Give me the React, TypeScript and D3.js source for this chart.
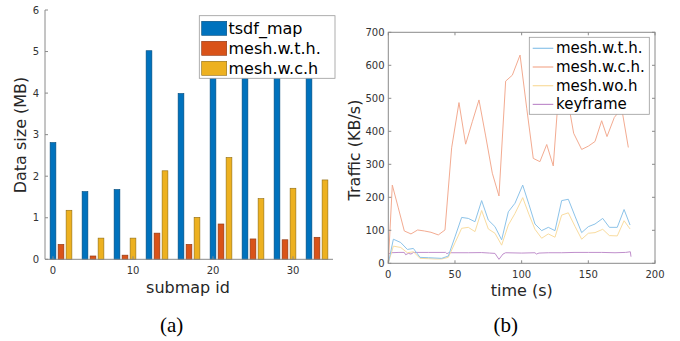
import React from 'react';
import * as d3 from 'd3';

// ---- (a) data size per submap ----
const submapIds = [0, 4, 8, 12, 16, 20, 24, 28, 32];
const tsdfMap = [2.81, 1.63, 1.68, 5.02, 3.99, 5.4, 5.2, 5.3, 5.1];
const meshWTH = [0.36, 0.08, 0.1, 0.63, 0.36, 0.85, 0.49, 0.47, 0.53];
const meshWCH = [1.18, 0.51, 0.51, 2.13, 1.01, 2.45, 1.46, 1.71, 1.91];
const barSeries = ['tsdf_map', 'mesh.w.t.h.', 'mesh.w.c.h'];
const barColors = ['#0072BD', '#D95319', '#EDB120'];
const barEdges = ['#00497a', '#8a3510', '#8f6b12'];
const yTicksA = [0, 1, 2, 3, 4, 5, 6];
const xTicksA = [0, 10, 20, 30];

// ---- (b) traffic over time ----
const timeMesh = [0, 3.8, 9.3, 14.3, 18.8, 23.8, 30, 35, 40, 45, 50, 55, 60, 65, 70, 75, 80, 85, 90, 95, 100.8, 105.5, 110, 115, 120, 125, 130, 135, 140, 145, 150, 155, 160.8, 165.8, 171.7, 176.8, 181.3];
const trafficWTH = [0, 73, 63, 42, 45, 18, 17, 16, 15, 22, 80, 139, 136, 126, 190, 131, 111, 71, 156, 182, 237, 178, 119, 99, 109, 99, 190, 194, 143, 93, 111, 119, 136, 109, 109, 163, 116];
const trafficWOH = [0, 52, 48, 32, 35, 15, 14, 13, 13, 18, 62, 106, 109, 96, 160, 104, 91, 55, 116, 151, 199, 148, 103, 76, 89, 79, 146, 153, 112, 73, 91, 93, 103, 84, 83, 129, 104];
const timeWCH = [0, 3, 7.5, 12, 17, 22, 27, 32, 37.5, 42.5, 47.5, 53, 58, 63, 68, 73, 78, 83, 88, 93, 98.8, 103.8, 108.7, 113.7, 118.8, 123.7, 128.5, 133.5, 139, 145, 150, 155, 160, 164, 169.5, 175, 180];
const trafficWCH = [0, 237, 168, 98, 89, 101, 98, 94, 86, 101, 350, 487, 361, 429, 495, 386, 273, 204, 552, 570, 631, 470, 318, 308, 360, 295, 560, 520, 394, 345, 355, 369, 432, 384, 442, 470, 351];
const timeKey = [0, 2, 8, 12, 13, 15, 17, 19, 30, 43, 44, 45, 60, 70, 76, 80, 83, 86, 88, 100, 110, 111, 113, 120, 130, 140, 150, 160, 170, 178, 181.5, 182];
const trafficKey = [28, 32, 33, 33, 26, 30, 28, 33, 33, 33, 29, 32, 32, 32.5, 31, 30, 12, 28, 32, 31, 32, 28, 31, 32, 32, 33, 33, 33, 32, 33, 35, 20];
const lineNames = ['mesh.w.t.h.', 'mesh.w.c.h.', 'mesh.wo.h', 'keyframe'];
const lineColors = ['#8cc3e9', '#f3ab91', '#f9dc9f', '#c08fcc'];
const yTicksB = [0, 100, 200, 300, 400, 500, 600, 700];
const xTicksB = [0, 50, 100, 150, 200];

const FONT = 'DejaVu Sans, sans-serif';
const AXIS = '#8a8a8a';
const TICKTXT = '#333';

function ChartA() {
  const x = d3.scaleLinear().domain([-1, 35]).range([45, 333]);
  const y = d3.scaleLinear().domain([0, 6]).range([259.3, 10]);
  const bw = x(0.72) - x(0);
  const all = [tsdfMap, meshWTH, meshWCH];
  return (
    <g>
      {all.map((vals, s) =>
        vals.map((v, i) => (
          <rect key={s + '-' + i} x={x(submapIds[i] + s) - bw / 2} y={y(v)} width={bw} height={y(0) - y(v)}
            fill={barColors[s]} stroke={barEdges[s]} strokeWidth={0.6} />
        ))
      )}
      <line x1={x(-1)} x2={x(-1)} y1={y(0)} y2={y(6)} stroke={AXIS} />
      <line x1={x(-1)} x2={x(35)} y1={y(0)} y2={y(0)} stroke={AXIS} />
      {yTicksA.map(t => (
        <g key={t}>
          <line x1={x(-1)} x2={x(-1) + 3} y1={y(t)} y2={y(t)} stroke={AXIS} />
          <text x={39} y={y(t)} textAnchor="end" dominantBaseline="central" fontSize={10} fill={TICKTXT}>{t}</text>
        </g>
      ))}
      {xTicksA.map(t => (
        <g key={t}>
          <line x1={x(t)} x2={x(t)} y1={y(0)} y2={y(0) - 3} stroke={AXIS} />
          <text x={x(t)} y={270} textAnchor="middle" dominantBaseline="central" fontSize={10} fill={TICKTXT}>{t}</text>
        </g>
      ))}
      <text x={188} y={287} textAnchor="middle" dominantBaseline="central" fontSize={16} fill="#262626">submap id</text>
      <text transform={`translate(20.5,135) rotate(-90)`} textAnchor="middle" dominantBaseline="central" fontSize={16} fill="#262626">Data size (MB)</text>
      {/* legend */}
      <rect x={199.3} y={15.7} width={135.7} height={62.6} fill="#fff" stroke="#9a9a9a" strokeWidth={0.8} />
      {barSeries.map((name, i) => (
        <g key={name}>
          <rect x={201.7} y={21.3 + i * 20} width={25} height={14} fill={barColors[i]} stroke={barEdges[i]} strokeWidth={0.6} />
          <text x={228.5} y={28.3 + i * 20} dominantBaseline="central" fontSize={16} fill="#000">{name}</text>
        </g>
      ))}
    </g>
  );
}

function ChartB() {
  const x = d3.scaleLinear().domain([0, 200]).range([388.3, 655]);
  const y = d3.scaleLinear().domain([0, 700]).range([263.3, 32.3]);
  const line = d3.line<[number, number]>().x(d => x(d[0])).y(d => y(d[1]));
  const series: [number, number][][] = [
    timeMesh.map((t, i) => [t, trafficWTH[i]]),
    timeWCH.map((t, i) => [t, trafficWCH[i]]),
    timeMesh.map((t, i) => [t, trafficWOH[i]]),
    timeKey.map((t, i) => [t, trafficKey[i]]),
  ];
  const drawOrder = [3, 2, 0, 1];
  return (
    <g>
      {drawOrder.map(s => (
        <path key={s} d={line(series[s]) || ''} fill="none" stroke={lineColors[s]} strokeWidth={1} />
      ))}
      <rect x={x(0)} y={y(700)} width={x(200) - x(0)} height={y(0) - y(700)} fill="none" stroke={AXIS} />
      {yTicksB.map(t => (
        <g key={t}>
          <line x1={x(0)} x2={x(0) + 3} y1={y(t)} y2={y(t)} stroke={AXIS} />
          <line x1={x(200)} x2={x(200) - 3} y1={y(t)} y2={y(t)} stroke={AXIS} />
          <text x={384.5} y={y(t)} textAnchor="end" dominantBaseline="central" fontSize={10} fill={TICKTXT}>{t}</text>
        </g>
      ))}
      {xTicksB.map(t => (
        <g key={t}>
          <line x1={x(t)} x2={x(t)} y1={y(0)} y2={y(0) - 3} stroke={AXIS} />
          <line x1={x(t)} x2={x(t)} y1={y(700)} y2={y(700) + 3} stroke={AXIS} />
          <text x={x(t)} y={274} textAnchor="middle" dominantBaseline="central" fontSize={10} fill={TICKTXT}>{t}</text>
        </g>
      ))}
      <text x={521.7} y={290} textAnchor="middle" dominantBaseline="central" fontSize={16} fill="#262626">time (s)</text>
      <text transform={`translate(354.5,150) rotate(-90)`} textAnchor="middle" dominantBaseline="central" fontSize={16} fill="#262626">Traffic (KB/s)</text>
      {/* legend */}
      <rect x={529.3} y={37.3} width={120} height={77} fill="#fff" stroke="#9a9a9a" strokeWidth={0.8} />
      {lineNames.map((name, i) => (
        <g key={name}>
          <line x1={532.7} x2={553.3} y1={48.3 + i * 18.7} y2={48.3 + i * 18.7} stroke={lineColors[i]} strokeWidth={1.2} />
          <text x={556} y={48.3 + i * 18.7} dominantBaseline="central" fontSize={15} fill="#000">{name}</text>
        </g>
      ))}
    </g>
  );
}

export default function App() {
  return (
    <div style={{ position: 'fixed', left: 0, top: 0 }}>
      <svg width={680} height={341} style={{ display: 'block', background: '#fff', fontFamily: FONT }}>
        <ChartA />
        <ChartB />
        <text x={171.7} y={332} textAnchor="middle" fontSize={21} fontFamily="Liberation Serif, serif" fill="#000">(a)</text>
        <text x={505.8} y={332} textAnchor="middle" fontSize={21} fontFamily="Liberation Serif, serif" fill="#000">(b)</text>
      </svg>
    </div>
  );
}
